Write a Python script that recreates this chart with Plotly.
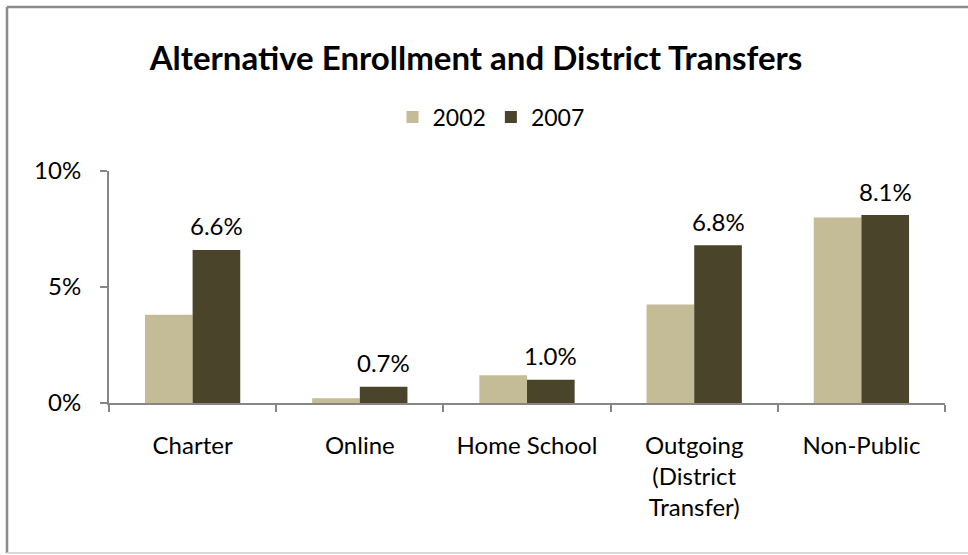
import plotly.graph_objects as go

categories = ["Charter", "Online", "Home School", "Outgoing<br>(District<br>Transfer)", "Non-Public"]
values_2002 = [3.8, 0.2, 1.2, 4.25, 8.0]
values_2007 = [6.6, 0.7, 1.0, 6.8, 8.1]
y_ticks = [0, 5, 10]
y_tick_labels = ["0%", "5%", "10%"]

FONT = "Lato, Calibri, Carlito, sans-serif"
W, H = 968, 555
L, R, T, B = 109, 23, 171, 152
BARGAP = 0.43

fig = go.Figure()
fig.add_trace(go.Bar(
    name="2002", x=categories, y=values_2002,
    marker=dict(color="#C4BC96", line=dict(width=0)),
))
fig.add_trace(go.Bar(
    name="2007", x=categories, y=values_2007,
    marker=dict(color="#4A452A", line=dict(width=0)),
))

# value labels above the 2007 bars
pw, ph = W - L - R, H - T - B
bar_w = (1 - BARGAP) * pw / len(categories) / 2
for c, v in zip(categories, values_2007):
    fig.add_annotation(x=c, y=v, text=f"{v:.1f}%", showarrow=False,
                       xshift=bar_w / 2, yshift=24, yanchor="middle",
                       font=dict(family=FONT, size=24, color="#000000"))

# chart frame, expressed in plot-area paper units
def px_x(p):
    return (p - L) / pw
def px_y(p):
    return (H - B - p) / ph

frame = [
    (px_x(7), px_y(7), px_x(975), px_y(7), "#8C8C8C", 2.5),
    (px_x(7), px_y(7), px_x(7), px_y(553), "#8C8C8C", 2.5),
    (px_x(7), px_y(553), px_x(975), px_y(553), "#D9D9D9", 2),
]
for x0, y0, x1, y1, c, w in frame:
    fig.add_shape(type="line", xref="paper", yref="paper",
                  x0=x0, y0=y0, x1=x1, y1=y1,
                  line=dict(color=c, width=w), layer="above")

fig.update_layout(
    width=W, height=H,
    margin=dict(l=L, r=R, t=T, b=B),
    paper_bgcolor="white", plot_bgcolor="white",
    barmode="group", bargap=BARGAP, bargroupgap=0,
    title=dict(text="<b>Alternative Enrollment and District Transfers</b>",
               x=476 / W, xanchor="center", y=1 - 58 / H, yanchor="middle",
               font=dict(family=FONT, size=33, color="#000000")),
    legend=dict(orientation="h", x=px_x(491), xanchor="center",
                y=px_y(117), yanchor="middle",
                font=dict(family=FONT, size=23, color="#000000"),
                itemwidth=30, traceorder="normal"),
    font=dict(family=FONT, size=24, color="#000000"),
    showlegend=True,
)
fig.update_xaxes(
    showline=True, linecolor="#868686", linewidth=2,
    ticks="outside", tickson="boundaries", ticklen=7, tickcolor="#868686", tickwidth=2,
    tickfont=dict(family=FONT, size=24, color="#000000"),
    ticklabelstandoff=20,
    showgrid=False,
)
fig.update_yaxes(
    range=[0, 10], tickvals=y_ticks, ticktext=y_tick_labels,
    showline=True, linecolor="#868686", linewidth=2,
    ticks="outside", ticklen=7, tickcolor="#868686", tickwidth=2,
    tickfont=dict(family=FONT, size=24, color="#000000"),
    ticklabelstandoff=14,
    showgrid=False, zeroline=False,
)

fig.write_html("out.html")
